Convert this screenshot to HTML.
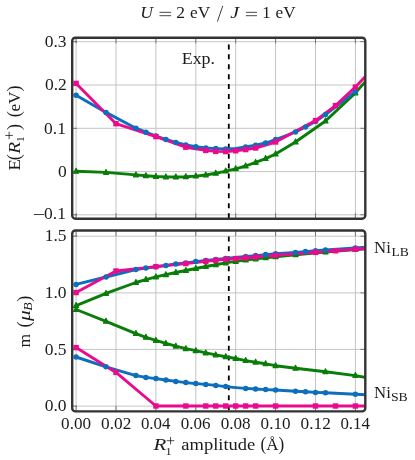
<!DOCTYPE html>
<html><head><meta charset="utf-8"><title>chart</title>
<style>html,body{margin:0;padding:0;background:#fff;}svg{display:block;will-change:transform;}</style></head>
<body>
<svg width="415" height="460" viewBox="0 0 415 460">
<rect width="415" height="460" fill="#fff"/>
<defs><clipPath id="c1"><rect x="72.2" y="37.7" width="293.1" height="181.0" rx="3"/></clipPath><clipPath id="c2"><rect x="72.2" y="230.5" width="293.1" height="180.9" rx="3"/></clipPath></defs>
<g clip-path="url(#c1)"><line x1="76.1" x2="76.1" y1="37.7" y2="218.7" stroke="#c4c4c4" stroke-width="1"/><line x1="116.0" x2="116.0" y1="37.7" y2="218.7" stroke="#c4c4c4" stroke-width="1"/><line x1="155.9" x2="155.9" y1="37.7" y2="218.7" stroke="#c4c4c4" stroke-width="1"/><line x1="195.8" x2="195.8" y1="37.7" y2="218.7" stroke="#c4c4c4" stroke-width="1"/><line x1="235.7" x2="235.7" y1="37.7" y2="218.7" stroke="#c4c4c4" stroke-width="1"/><line x1="275.6" x2="275.6" y1="37.7" y2="218.7" stroke="#c4c4c4" stroke-width="1"/><line x1="315.5" x2="315.5" y1="37.7" y2="218.7" stroke="#c4c4c4" stroke-width="1"/><line x1="355.4" x2="355.4" y1="37.7" y2="218.7" stroke="#c4c4c4" stroke-width="1"/><line x1="72.2" x2="365.3" y1="41.7" y2="41.7" stroke="#c4c4c4" stroke-width="1"/><line x1="72.2" x2="365.3" y1="85.0" y2="85.0" stroke="#c4c4c4" stroke-width="1"/><line x1="72.2" x2="365.3" y1="128.3" y2="128.3" stroke="#c4c4c4" stroke-width="1"/><line x1="72.2" x2="365.3" y1="171.6" y2="171.6" stroke="#c4c4c4" stroke-width="1"/><line x1="72.2" x2="365.3" y1="214.8" y2="214.8" stroke="#c4c4c4" stroke-width="1"/><line x1="76.1" x2="76.1" y1="37.7" y2="43.3" stroke="#3a3a3a" stroke-width="0.6"/><line x1="76.1" x2="76.1" y1="213.1" y2="218.7" stroke="#3a3a3a" stroke-width="0.6"/><line x1="116.0" x2="116.0" y1="37.7" y2="43.3" stroke="#3a3a3a" stroke-width="0.6"/><line x1="116.0" x2="116.0" y1="213.1" y2="218.7" stroke="#3a3a3a" stroke-width="0.6"/><line x1="155.9" x2="155.9" y1="37.7" y2="43.3" stroke="#3a3a3a" stroke-width="0.6"/><line x1="155.9" x2="155.9" y1="213.1" y2="218.7" stroke="#3a3a3a" stroke-width="0.6"/><line x1="195.8" x2="195.8" y1="37.7" y2="43.3" stroke="#3a3a3a" stroke-width="0.6"/><line x1="195.8" x2="195.8" y1="213.1" y2="218.7" stroke="#3a3a3a" stroke-width="0.6"/><line x1="235.7" x2="235.7" y1="37.7" y2="43.3" stroke="#3a3a3a" stroke-width="0.6"/><line x1="235.7" x2="235.7" y1="213.1" y2="218.7" stroke="#3a3a3a" stroke-width="0.6"/><line x1="275.6" x2="275.6" y1="37.7" y2="43.3" stroke="#3a3a3a" stroke-width="0.6"/><line x1="275.6" x2="275.6" y1="213.1" y2="218.7" stroke="#3a3a3a" stroke-width="0.6"/><line x1="315.5" x2="315.5" y1="37.7" y2="43.3" stroke="#3a3a3a" stroke-width="0.6"/><line x1="315.5" x2="315.5" y1="213.1" y2="218.7" stroke="#3a3a3a" stroke-width="0.6"/><line x1="355.4" x2="355.4" y1="37.7" y2="43.3" stroke="#3a3a3a" stroke-width="0.6"/><line x1="355.4" x2="355.4" y1="213.1" y2="218.7" stroke="#3a3a3a" stroke-width="0.6"/><line x1="72.2" x2="77.1" y1="41.7" y2="41.7" stroke="#3a3a3a" stroke-width="0.6"/><line x1="360.4" x2="365.3" y1="41.7" y2="41.7" stroke="#3a3a3a" stroke-width="0.6"/><line x1="72.2" x2="77.1" y1="85.0" y2="85.0" stroke="#3a3a3a" stroke-width="0.6"/><line x1="360.4" x2="365.3" y1="85.0" y2="85.0" stroke="#3a3a3a" stroke-width="0.6"/><line x1="72.2" x2="77.1" y1="128.3" y2="128.3" stroke="#3a3a3a" stroke-width="0.6"/><line x1="360.4" x2="365.3" y1="128.3" y2="128.3" stroke="#3a3a3a" stroke-width="0.6"/><line x1="72.2" x2="77.1" y1="171.6" y2="171.6" stroke="#3a3a3a" stroke-width="0.6"/><line x1="360.4" x2="365.3" y1="171.6" y2="171.6" stroke="#3a3a3a" stroke-width="0.6"/><line x1="72.2" x2="77.1" y1="214.8" y2="214.8" stroke="#3a3a3a" stroke-width="0.6"/><line x1="360.4" x2="365.3" y1="214.8" y2="214.8" stroke="#3a3a3a" stroke-width="0.6"/></g>
<g clip-path="url(#c2)"><line x1="76.1" x2="76.1" y1="230.5" y2="411.4" stroke="#c4c4c4" stroke-width="1"/><line x1="116.0" x2="116.0" y1="230.5" y2="411.4" stroke="#c4c4c4" stroke-width="1"/><line x1="155.9" x2="155.9" y1="230.5" y2="411.4" stroke="#c4c4c4" stroke-width="1"/><line x1="195.8" x2="195.8" y1="230.5" y2="411.4" stroke="#c4c4c4" stroke-width="1"/><line x1="235.7" x2="235.7" y1="230.5" y2="411.4" stroke="#c4c4c4" stroke-width="1"/><line x1="275.6" x2="275.6" y1="230.5" y2="411.4" stroke="#c4c4c4" stroke-width="1"/><line x1="315.5" x2="315.5" y1="230.5" y2="411.4" stroke="#c4c4c4" stroke-width="1"/><line x1="355.4" x2="355.4" y1="230.5" y2="411.4" stroke="#c4c4c4" stroke-width="1"/><line x1="72.2" x2="365.3" y1="236.2" y2="236.2" stroke="#c4c4c4" stroke-width="1"/><line x1="72.2" x2="365.3" y1="292.9" y2="292.9" stroke="#c4c4c4" stroke-width="1"/><line x1="72.2" x2="365.3" y1="349.4" y2="349.4" stroke="#c4c4c4" stroke-width="1"/><line x1="72.2" x2="365.3" y1="406.1" y2="406.1" stroke="#c4c4c4" stroke-width="1"/><line x1="76.1" x2="76.1" y1="230.5" y2="236.1" stroke="#3a3a3a" stroke-width="0.6"/><line x1="76.1" x2="76.1" y1="405.8" y2="411.4" stroke="#3a3a3a" stroke-width="0.6"/><line x1="116.0" x2="116.0" y1="230.5" y2="236.1" stroke="#3a3a3a" stroke-width="0.6"/><line x1="116.0" x2="116.0" y1="405.8" y2="411.4" stroke="#3a3a3a" stroke-width="0.6"/><line x1="155.9" x2="155.9" y1="230.5" y2="236.1" stroke="#3a3a3a" stroke-width="0.6"/><line x1="155.9" x2="155.9" y1="405.8" y2="411.4" stroke="#3a3a3a" stroke-width="0.6"/><line x1="195.8" x2="195.8" y1="230.5" y2="236.1" stroke="#3a3a3a" stroke-width="0.6"/><line x1="195.8" x2="195.8" y1="405.8" y2="411.4" stroke="#3a3a3a" stroke-width="0.6"/><line x1="235.7" x2="235.7" y1="230.5" y2="236.1" stroke="#3a3a3a" stroke-width="0.6"/><line x1="235.7" x2="235.7" y1="405.8" y2="411.4" stroke="#3a3a3a" stroke-width="0.6"/><line x1="275.6" x2="275.6" y1="230.5" y2="236.1" stroke="#3a3a3a" stroke-width="0.6"/><line x1="275.6" x2="275.6" y1="405.8" y2="411.4" stroke="#3a3a3a" stroke-width="0.6"/><line x1="315.5" x2="315.5" y1="230.5" y2="236.1" stroke="#3a3a3a" stroke-width="0.6"/><line x1="315.5" x2="315.5" y1="405.8" y2="411.4" stroke="#3a3a3a" stroke-width="0.6"/><line x1="355.4" x2="355.4" y1="230.5" y2="236.1" stroke="#3a3a3a" stroke-width="0.6"/><line x1="355.4" x2="355.4" y1="405.8" y2="411.4" stroke="#3a3a3a" stroke-width="0.6"/><line x1="72.2" x2="77.1" y1="236.2" y2="236.2" stroke="#3a3a3a" stroke-width="0.6"/><line x1="360.4" x2="365.3" y1="236.2" y2="236.2" stroke="#3a3a3a" stroke-width="0.6"/><line x1="72.2" x2="77.1" y1="292.9" y2="292.9" stroke="#3a3a3a" stroke-width="0.6"/><line x1="360.4" x2="365.3" y1="292.9" y2="292.9" stroke="#3a3a3a" stroke-width="0.6"/><line x1="72.2" x2="77.1" y1="349.4" y2="349.4" stroke="#3a3a3a" stroke-width="0.6"/><line x1="360.4" x2="365.3" y1="349.4" y2="349.4" stroke="#3a3a3a" stroke-width="0.6"/><line x1="72.2" x2="77.1" y1="406.1" y2="406.1" stroke="#3a3a3a" stroke-width="0.6"/><line x1="360.4" x2="365.3" y1="406.1" y2="406.1" stroke="#3a3a3a" stroke-width="0.6"/></g>
<g clip-path="url(#c1)"><line x1="228.8" x2="228.8" y1="44.40" y2="49.40" stroke="#000" stroke-width="1.8"/><line x1="228.8" x2="228.8" y1="54.33" y2="59.33" stroke="#000" stroke-width="1.8"/><line x1="228.8" x2="228.8" y1="64.26" y2="69.26" stroke="#000" stroke-width="1.8"/><line x1="228.8" x2="228.8" y1="74.19" y2="79.19" stroke="#000" stroke-width="1.8"/><line x1="228.8" x2="228.8" y1="84.12" y2="89.12" stroke="#000" stroke-width="1.8"/><line x1="228.8" x2="228.8" y1="94.05" y2="99.05" stroke="#000" stroke-width="1.8"/><line x1="228.8" x2="228.8" y1="103.98" y2="108.98" stroke="#000" stroke-width="1.8"/><line x1="228.8" x2="228.8" y1="113.91" y2="118.91" stroke="#000" stroke-width="1.8"/><line x1="228.8" x2="228.8" y1="123.84" y2="128.84" stroke="#000" stroke-width="1.8"/><line x1="228.8" x2="228.8" y1="133.77" y2="138.77" stroke="#000" stroke-width="1.8"/><line x1="228.8" x2="228.8" y1="143.70" y2="148.70" stroke="#000" stroke-width="1.8"/><line x1="228.8" x2="228.8" y1="153.63" y2="158.63" stroke="#000" stroke-width="1.8"/><line x1="228.8" x2="228.8" y1="163.56" y2="168.56" stroke="#000" stroke-width="1.8"/><line x1="228.8" x2="228.8" y1="173.49" y2="178.49" stroke="#000" stroke-width="1.8"/><line x1="228.8" x2="228.8" y1="183.42" y2="188.42" stroke="#000" stroke-width="1.8"/><line x1="228.8" x2="228.8" y1="193.35" y2="198.35" stroke="#000" stroke-width="1.8"/><line x1="228.8" x2="228.8" y1="203.28" y2="208.28" stroke="#000" stroke-width="1.8"/><line x1="228.8" x2="228.8" y1="213.21" y2="218.21" stroke="#000" stroke-width="1.8"/></g>
<g clip-path="url(#c2)"><line x1="228.8" x2="228.8" y1="236.40" y2="241.40" stroke="#000" stroke-width="1.8"/><line x1="228.8" x2="228.8" y1="246.33" y2="251.33" stroke="#000" stroke-width="1.8"/><line x1="228.8" x2="228.8" y1="256.26" y2="261.26" stroke="#000" stroke-width="1.8"/><line x1="228.8" x2="228.8" y1="266.19" y2="271.19" stroke="#000" stroke-width="1.8"/><line x1="228.8" x2="228.8" y1="276.12" y2="281.12" stroke="#000" stroke-width="1.8"/><line x1="228.8" x2="228.8" y1="286.05" y2="291.05" stroke="#000" stroke-width="1.8"/><line x1="228.8" x2="228.8" y1="295.98" y2="300.98" stroke="#000" stroke-width="1.8"/><line x1="228.8" x2="228.8" y1="305.91" y2="310.91" stroke="#000" stroke-width="1.8"/><line x1="228.8" x2="228.8" y1="315.84" y2="320.84" stroke="#000" stroke-width="1.8"/><line x1="228.8" x2="228.8" y1="325.77" y2="330.77" stroke="#000" stroke-width="1.8"/><line x1="228.8" x2="228.8" y1="335.70" y2="340.70" stroke="#000" stroke-width="1.8"/><line x1="228.8" x2="228.8" y1="345.63" y2="350.63" stroke="#000" stroke-width="1.8"/><line x1="228.8" x2="228.8" y1="355.56" y2="360.56" stroke="#000" stroke-width="1.8"/><line x1="228.8" x2="228.8" y1="365.49" y2="370.49" stroke="#000" stroke-width="1.8"/><line x1="228.8" x2="228.8" y1="375.42" y2="380.42" stroke="#000" stroke-width="1.8"/><line x1="228.8" x2="228.8" y1="385.35" y2="390.35" stroke="#000" stroke-width="1.8"/><line x1="228.8" x2="228.8" y1="395.28" y2="400.28" stroke="#000" stroke-width="1.8"/><line x1="228.8" x2="228.8" y1="405.21" y2="410.21" stroke="#000" stroke-width="1.8"/></g>
<g clip-path="url(#c1)">
<path d="M76.1 171.3 L106.0 172.4 L135.9 174.9 L145.9 175.8 L155.9 176.5 L165.9 176.9 L175.8 177.0 L185.8 176.7 L195.8 176.1 L205.8 175.0 L215.8 173.3 L225.7 171.1 L235.7 168.8 L245.7 166.0 L255.6 162.4 L265.6 158.6 L275.6 154.0 L295.5 142.0 L325.5 121.0 L355.4 92.9 L385.4 59.0" fill="none" stroke="#087d08" stroke-width="2.90" stroke-linejoin="round" stroke-linecap="butt"/>
<path d="M76.1 95.2 L106.0 112.4 L135.9 128.2 L145.9 132.2 L155.9 136.0 L165.9 139.4 L175.8 142.4 L185.8 145.0 L195.8 146.8 L205.8 148.0 L215.8 148.6 L225.7 149.0 L235.7 148.4 L245.7 147.0 L255.6 145.2 L265.6 143.0 L275.6 139.6 L295.5 132.0 L305.5 127.0 L315.5 121.5 L325.5 114.6 L355.4 91.7" fill="none" stroke="#0d6ebd" stroke-width="2.90" stroke-linejoin="round" stroke-linecap="butt"/>
<path d="M76.1 83.4 L116.0 123.7 L155.9 136.6 L185.8 147.2 L205.8 150.4 L215.8 151.4 L225.7 151.6 L235.7 150.8 L245.7 149.6 L255.6 148.0 L275.6 142.0 L315.5 120.6 L335.5 105.6 L355.4 87.1 L385.4 55.3" fill="none" stroke="#ea0a8e" stroke-width="2.90" stroke-linejoin="round" stroke-linecap="butt"/>
<path d="M76.10 168.30 L73.60 173.20 L78.60 173.20 Z" fill="#087d08" stroke="#087d08" stroke-width="1.2" stroke-linejoin="round"/><path d="M106.02 169.40 L103.52 174.30 L108.52 174.30 Z" fill="#087d08" stroke="#087d08" stroke-width="1.2" stroke-linejoin="round"/><path d="M135.95 171.90 L133.45 176.80 L138.45 176.80 Z" fill="#087d08" stroke="#087d08" stroke-width="1.2" stroke-linejoin="round"/><path d="M145.93 172.80 L143.43 177.70 L148.43 177.70 Z" fill="#087d08" stroke="#087d08" stroke-width="1.2" stroke-linejoin="round"/><path d="M155.90 173.50 L153.40 178.40 L158.40 178.40 Z" fill="#087d08" stroke="#087d08" stroke-width="1.2" stroke-linejoin="round"/><path d="M165.88 173.90 L163.38 178.80 L168.38 178.80 Z" fill="#087d08" stroke="#087d08" stroke-width="1.2" stroke-linejoin="round"/><path d="M175.85 174.00 L173.35 178.90 L178.35 178.90 Z" fill="#087d08" stroke="#087d08" stroke-width="1.2" stroke-linejoin="round"/><path d="M185.82 173.70 L183.32 178.60 L188.32 178.60 Z" fill="#087d08" stroke="#087d08" stroke-width="1.2" stroke-linejoin="round"/><path d="M195.80 173.10 L193.30 178.00 L198.30 178.00 Z" fill="#087d08" stroke="#087d08" stroke-width="1.2" stroke-linejoin="round"/><path d="M205.78 172.00 L203.28 176.90 L208.28 176.90 Z" fill="#087d08" stroke="#087d08" stroke-width="1.2" stroke-linejoin="round"/><path d="M215.75 170.30 L213.25 175.20 L218.25 175.20 Z" fill="#087d08" stroke="#087d08" stroke-width="1.2" stroke-linejoin="round"/><path d="M225.72 168.10 L223.22 173.00 L228.22 173.00 Z" fill="#087d08" stroke="#087d08" stroke-width="1.2" stroke-linejoin="round"/><path d="M235.70 165.80 L233.20 170.70 L238.20 170.70 Z" fill="#087d08" stroke="#087d08" stroke-width="1.2" stroke-linejoin="round"/><path d="M245.68 163.00 L243.18 167.90 L248.18 167.90 Z" fill="#087d08" stroke="#087d08" stroke-width="1.2" stroke-linejoin="round"/><path d="M255.65 159.40 L253.15 164.30 L258.15 164.30 Z" fill="#087d08" stroke="#087d08" stroke-width="1.2" stroke-linejoin="round"/><path d="M265.62 155.60 L263.12 160.50 L268.12 160.50 Z" fill="#087d08" stroke="#087d08" stroke-width="1.2" stroke-linejoin="round"/><path d="M275.60 151.00 L273.10 155.90 L278.10 155.90 Z" fill="#087d08" stroke="#087d08" stroke-width="1.2" stroke-linejoin="round"/><path d="M295.55 139.00 L293.05 143.90 L298.05 143.90 Z" fill="#087d08" stroke="#087d08" stroke-width="1.2" stroke-linejoin="round"/><path d="M325.48 118.00 L322.98 122.90 L327.98 122.90 Z" fill="#087d08" stroke="#087d08" stroke-width="1.2" stroke-linejoin="round"/><path d="M355.40 89.90 L352.90 94.80 L357.90 94.80 Z" fill="#087d08" stroke="#087d08" stroke-width="1.2" stroke-linejoin="round"/>
<circle cx="76.1" cy="95.2" r="2.75" fill="#0d6ebd"/><circle cx="106.0" cy="112.4" r="2.75" fill="#0d6ebd"/><circle cx="135.9" cy="128.2" r="2.75" fill="#0d6ebd"/><circle cx="145.9" cy="132.2" r="2.75" fill="#0d6ebd"/><circle cx="155.9" cy="136.0" r="2.75" fill="#0d6ebd"/><circle cx="165.9" cy="139.4" r="2.75" fill="#0d6ebd"/><circle cx="175.8" cy="142.4" r="2.75" fill="#0d6ebd"/><circle cx="185.8" cy="145.0" r="2.75" fill="#0d6ebd"/><circle cx="195.8" cy="146.8" r="2.75" fill="#0d6ebd"/><circle cx="205.8" cy="148.0" r="2.75" fill="#0d6ebd"/><circle cx="215.8" cy="148.6" r="2.75" fill="#0d6ebd"/><circle cx="225.7" cy="149.0" r="2.75" fill="#0d6ebd"/><circle cx="245.7" cy="147.0" r="2.75" fill="#0d6ebd"/><circle cx="255.6" cy="145.2" r="2.75" fill="#0d6ebd"/><circle cx="265.6" cy="143.0" r="2.75" fill="#0d6ebd"/><circle cx="275.6" cy="139.6" r="2.75" fill="#0d6ebd"/><circle cx="295.5" cy="132.0" r="2.75" fill="#0d6ebd"/><circle cx="305.5" cy="127.0" r="2.75" fill="#0d6ebd"/><circle cx="315.5" cy="121.5" r="2.75" fill="#0d6ebd"/><circle cx="325.5" cy="114.6" r="2.75" fill="#0d6ebd"/><circle cx="355.4" cy="91.7" r="2.75" fill="#0d6ebd"/>
<rect x="73.40" y="80.70" width="5.40" height="5.40" fill="#ea0a8e"/><rect x="113.30" y="121.00" width="5.40" height="5.40" fill="#ea0a8e"/><rect x="153.20" y="133.90" width="5.40" height="5.40" fill="#ea0a8e"/><rect x="183.12" y="144.50" width="5.40" height="5.40" fill="#ea0a8e"/><rect x="203.08" y="147.70" width="5.40" height="5.40" fill="#ea0a8e"/><rect x="213.05" y="148.70" width="5.40" height="5.40" fill="#ea0a8e"/><rect x="223.03" y="148.90" width="5.40" height="5.40" fill="#ea0a8e"/><rect x="233.00" y="148.10" width="5.40" height="5.40" fill="#ea0a8e"/><rect x="242.98" y="146.90" width="5.40" height="5.40" fill="#ea0a8e"/><rect x="252.95" y="145.30" width="5.40" height="5.40" fill="#ea0a8e"/><rect x="272.90" y="139.30" width="5.40" height="5.40" fill="#ea0a8e"/><rect x="312.80" y="117.90" width="5.40" height="5.40" fill="#ea0a8e"/><rect x="332.75" y="102.90" width="5.40" height="5.40" fill="#ea0a8e"/><rect x="352.70" y="84.40" width="5.40" height="5.40" fill="#ea0a8e"/>
</g>
<g clip-path="url(#c2)">
<path d="M76.1 305.6 L106.0 293.4 L135.9 282.5 L145.9 279.6 L155.9 276.9 L165.9 274.7 L175.8 272.5 L185.8 270.5 L195.8 268.5 L205.8 266.5 L215.8 264.8 L225.7 262.9 L235.7 261.4 L245.7 260.1 L255.6 258.9 L265.6 257.7 L275.6 256.7 L295.5 254.7 L325.5 252.0 L355.4 249.6 L385.4 247.5" fill="none" stroke="#087d08" stroke-width="2.90" stroke-linejoin="round" stroke-linecap="butt"/>
<path d="M76.1 309.5 L106.0 321.3 L135.9 333.6 L145.9 337.3 L155.9 340.4 L165.9 343.4 L175.8 346.2 L185.8 348.7 L195.8 350.7 L205.8 352.9 L215.8 354.9 L225.7 356.7 L235.7 358.5 L245.7 360.6 L255.6 362.2 L265.6 363.8 L275.6 365.7 L295.5 368.3 L325.5 371.8 L355.4 375.6 L385.4 381.0" fill="none" stroke="#087d08" stroke-width="2.90" stroke-linejoin="round" stroke-linecap="butt"/>
<path d="M76.1 284.4 L106.0 277.0 L135.9 269.6 L145.9 268.1 L155.9 266.8 L165.9 265.4 L175.8 264.0 L185.8 263.0 L195.8 261.6 L205.8 260.4 L215.8 259.4 L225.7 258.4 L235.7 257.4 L245.7 256.4 L255.6 255.6 L265.6 254.6 L275.6 253.8 L295.5 252.4 L305.5 251.6 L315.5 250.8 L325.5 250.0 L355.4 248.0 L385.4 246.0" fill="none" stroke="#0d6ebd" stroke-width="2.90" stroke-linejoin="round" stroke-linecap="butt"/>
<path d="M76.1 357.0 L106.0 366.8 L135.9 375.6 L145.9 377.4 L155.9 378.6 L165.9 380.0 L175.8 381.4 L185.8 382.6 L195.8 383.6 L205.8 384.4 L215.8 385.4 L225.7 386.6 L235.7 387.6 L245.7 388.4 L255.6 389.0 L265.6 389.6 L275.6 390.0 L295.5 391.2 L305.5 391.8 L315.5 392.4 L325.5 392.8 L355.4 394.2 L385.4 395.8" fill="none" stroke="#0d6ebd" stroke-width="2.90" stroke-linejoin="round" stroke-linecap="butt"/>
<path d="M76.1 292.5 L116.0 271.0 L155.9 266.6 L185.8 263.6 L205.8 261.4 L215.8 260.3 L225.7 259.4 L235.7 258.6 L245.7 257.8 L255.6 257.0 L275.6 255.4 L315.5 252.4 L335.5 250.8 L355.4 249.2 L385.4 247.4" fill="none" stroke="#ea0a8e" stroke-width="2.90" stroke-linejoin="round" stroke-linecap="butt"/>
<path d="M76.1 347.6 L116.0 372.4 L155.9 406.0 L185.8 406.0 L205.8 406.0 L215.8 406.0 L225.7 406.0 L235.7 406.0 L245.7 406.0 L255.6 406.0 L275.6 406.0 L315.5 406.0 L335.5 406.0 L355.4 406.0 L385.4 406.0" fill="none" stroke="#ea0a8e" stroke-width="2.90" stroke-linejoin="round" stroke-linecap="butt"/>
<path d="M76.10 302.60 L73.60 307.50 L78.60 307.50 Z" fill="#087d08" stroke="#087d08" stroke-width="1.2" stroke-linejoin="round"/><path d="M106.02 290.40 L103.52 295.30 L108.52 295.30 Z" fill="#087d08" stroke="#087d08" stroke-width="1.2" stroke-linejoin="round"/><path d="M135.95 279.50 L133.45 284.40 L138.45 284.40 Z" fill="#087d08" stroke="#087d08" stroke-width="1.2" stroke-linejoin="round"/><path d="M145.93 276.60 L143.43 281.50 L148.43 281.50 Z" fill="#087d08" stroke="#087d08" stroke-width="1.2" stroke-linejoin="round"/><path d="M155.90 273.90 L153.40 278.80 L158.40 278.80 Z" fill="#087d08" stroke="#087d08" stroke-width="1.2" stroke-linejoin="round"/><path d="M165.88 271.70 L163.38 276.60 L168.38 276.60 Z" fill="#087d08" stroke="#087d08" stroke-width="1.2" stroke-linejoin="round"/><path d="M175.85 269.50 L173.35 274.40 L178.35 274.40 Z" fill="#087d08" stroke="#087d08" stroke-width="1.2" stroke-linejoin="round"/><path d="M185.82 267.50 L183.32 272.40 L188.32 272.40 Z" fill="#087d08" stroke="#087d08" stroke-width="1.2" stroke-linejoin="round"/><path d="M195.80 265.50 L193.30 270.40 L198.30 270.40 Z" fill="#087d08" stroke="#087d08" stroke-width="1.2" stroke-linejoin="round"/><path d="M205.78 263.50 L203.28 268.40 L208.28 268.40 Z" fill="#087d08" stroke="#087d08" stroke-width="1.2" stroke-linejoin="round"/><path d="M215.75 261.80 L213.25 266.70 L218.25 266.70 Z" fill="#087d08" stroke="#087d08" stroke-width="1.2" stroke-linejoin="round"/><path d="M225.72 259.90 L223.22 264.80 L228.22 264.80 Z" fill="#087d08" stroke="#087d08" stroke-width="1.2" stroke-linejoin="round"/><path d="M235.70 258.40 L233.20 263.30 L238.20 263.30 Z" fill="#087d08" stroke="#087d08" stroke-width="1.2" stroke-linejoin="round"/><path d="M245.68 257.10 L243.18 262.00 L248.18 262.00 Z" fill="#087d08" stroke="#087d08" stroke-width="1.2" stroke-linejoin="round"/><path d="M255.65 255.90 L253.15 260.80 L258.15 260.80 Z" fill="#087d08" stroke="#087d08" stroke-width="1.2" stroke-linejoin="round"/><path d="M265.62 254.70 L263.12 259.60 L268.12 259.60 Z" fill="#087d08" stroke="#087d08" stroke-width="1.2" stroke-linejoin="round"/><path d="M275.60 253.70 L273.10 258.60 L278.10 258.60 Z" fill="#087d08" stroke="#087d08" stroke-width="1.2" stroke-linejoin="round"/><path d="M295.55 251.70 L293.05 256.60 L298.05 256.60 Z" fill="#087d08" stroke="#087d08" stroke-width="1.2" stroke-linejoin="round"/><path d="M325.48 249.00 L322.98 253.90 L327.98 253.90 Z" fill="#087d08" stroke="#087d08" stroke-width="1.2" stroke-linejoin="round"/><path d="M355.40 246.60 L352.90 251.50 L357.90 251.50 Z" fill="#087d08" stroke="#087d08" stroke-width="1.2" stroke-linejoin="round"/>
<path d="M76.10 306.50 L73.60 311.40 L78.60 311.40 Z" fill="#087d08" stroke="#087d08" stroke-width="1.2" stroke-linejoin="round"/><path d="M106.02 318.30 L103.52 323.20 L108.52 323.20 Z" fill="#087d08" stroke="#087d08" stroke-width="1.2" stroke-linejoin="round"/><path d="M135.95 330.60 L133.45 335.50 L138.45 335.50 Z" fill="#087d08" stroke="#087d08" stroke-width="1.2" stroke-linejoin="round"/><path d="M145.93 334.30 L143.43 339.20 L148.43 339.20 Z" fill="#087d08" stroke="#087d08" stroke-width="1.2" stroke-linejoin="round"/><path d="M155.90 337.40 L153.40 342.30 L158.40 342.30 Z" fill="#087d08" stroke="#087d08" stroke-width="1.2" stroke-linejoin="round"/><path d="M165.88 340.40 L163.38 345.30 L168.38 345.30 Z" fill="#087d08" stroke="#087d08" stroke-width="1.2" stroke-linejoin="round"/><path d="M175.85 343.20 L173.35 348.10 L178.35 348.10 Z" fill="#087d08" stroke="#087d08" stroke-width="1.2" stroke-linejoin="round"/><path d="M185.82 345.70 L183.32 350.60 L188.32 350.60 Z" fill="#087d08" stroke="#087d08" stroke-width="1.2" stroke-linejoin="round"/><path d="M195.80 347.70 L193.30 352.60 L198.30 352.60 Z" fill="#087d08" stroke="#087d08" stroke-width="1.2" stroke-linejoin="round"/><path d="M205.78 349.90 L203.28 354.80 L208.28 354.80 Z" fill="#087d08" stroke="#087d08" stroke-width="1.2" stroke-linejoin="round"/><path d="M215.75 351.90 L213.25 356.80 L218.25 356.80 Z" fill="#087d08" stroke="#087d08" stroke-width="1.2" stroke-linejoin="round"/><path d="M225.72 353.70 L223.22 358.60 L228.22 358.60 Z" fill="#087d08" stroke="#087d08" stroke-width="1.2" stroke-linejoin="round"/><path d="M235.70 355.50 L233.20 360.40 L238.20 360.40 Z" fill="#087d08" stroke="#087d08" stroke-width="1.2" stroke-linejoin="round"/><path d="M245.68 357.60 L243.18 362.50 L248.18 362.50 Z" fill="#087d08" stroke="#087d08" stroke-width="1.2" stroke-linejoin="round"/><path d="M255.65 359.20 L253.15 364.10 L258.15 364.10 Z" fill="#087d08" stroke="#087d08" stroke-width="1.2" stroke-linejoin="round"/><path d="M265.62 360.80 L263.12 365.70 L268.12 365.70 Z" fill="#087d08" stroke="#087d08" stroke-width="1.2" stroke-linejoin="round"/><path d="M275.60 362.70 L273.10 367.60 L278.10 367.60 Z" fill="#087d08" stroke="#087d08" stroke-width="1.2" stroke-linejoin="round"/><path d="M295.55 365.30 L293.05 370.20 L298.05 370.20 Z" fill="#087d08" stroke="#087d08" stroke-width="1.2" stroke-linejoin="round"/><path d="M325.48 368.80 L322.98 373.70 L327.98 373.70 Z" fill="#087d08" stroke="#087d08" stroke-width="1.2" stroke-linejoin="round"/><path d="M355.40 372.60 L352.90 377.50 L357.90 377.50 Z" fill="#087d08" stroke="#087d08" stroke-width="1.2" stroke-linejoin="round"/>
<circle cx="76.1" cy="284.4" r="2.75" fill="#0d6ebd"/><circle cx="106.0" cy="277.0" r="2.75" fill="#0d6ebd"/><circle cx="135.9" cy="269.6" r="2.75" fill="#0d6ebd"/><circle cx="145.9" cy="268.1" r="2.75" fill="#0d6ebd"/><circle cx="155.9" cy="266.8" r="2.75" fill="#0d6ebd"/><circle cx="165.9" cy="265.4" r="2.75" fill="#0d6ebd"/><circle cx="175.8" cy="264.0" r="2.75" fill="#0d6ebd"/><circle cx="185.8" cy="263.0" r="2.75" fill="#0d6ebd"/><circle cx="195.8" cy="261.6" r="2.75" fill="#0d6ebd"/><circle cx="205.8" cy="260.4" r="2.75" fill="#0d6ebd"/><circle cx="215.8" cy="259.4" r="2.75" fill="#0d6ebd"/><circle cx="225.7" cy="258.4" r="2.75" fill="#0d6ebd"/><circle cx="245.7" cy="256.4" r="2.75" fill="#0d6ebd"/><circle cx="255.6" cy="255.6" r="2.75" fill="#0d6ebd"/><circle cx="265.6" cy="254.6" r="2.75" fill="#0d6ebd"/><circle cx="275.6" cy="253.8" r="2.75" fill="#0d6ebd"/><circle cx="295.5" cy="252.4" r="2.75" fill="#0d6ebd"/><circle cx="305.5" cy="251.6" r="2.75" fill="#0d6ebd"/><circle cx="315.5" cy="250.8" r="2.75" fill="#0d6ebd"/><circle cx="325.5" cy="250.0" r="2.75" fill="#0d6ebd"/><circle cx="355.4" cy="248.0" r="2.75" fill="#0d6ebd"/>
<circle cx="76.1" cy="357.0" r="2.75" fill="#0d6ebd"/><circle cx="106.0" cy="366.8" r="2.75" fill="#0d6ebd"/><circle cx="135.9" cy="375.6" r="2.75" fill="#0d6ebd"/><circle cx="145.9" cy="377.4" r="2.75" fill="#0d6ebd"/><circle cx="155.9" cy="378.6" r="2.75" fill="#0d6ebd"/><circle cx="165.9" cy="380.0" r="2.75" fill="#0d6ebd"/><circle cx="175.8" cy="381.4" r="2.75" fill="#0d6ebd"/><circle cx="185.8" cy="382.6" r="2.75" fill="#0d6ebd"/><circle cx="195.8" cy="383.6" r="2.75" fill="#0d6ebd"/><circle cx="205.8" cy="384.4" r="2.75" fill="#0d6ebd"/><circle cx="215.8" cy="385.4" r="2.75" fill="#0d6ebd"/><circle cx="225.7" cy="386.6" r="2.75" fill="#0d6ebd"/><circle cx="245.7" cy="388.4" r="2.75" fill="#0d6ebd"/><circle cx="255.6" cy="389.0" r="2.75" fill="#0d6ebd"/><circle cx="265.6" cy="389.6" r="2.75" fill="#0d6ebd"/><circle cx="275.6" cy="390.0" r="2.75" fill="#0d6ebd"/><circle cx="295.5" cy="391.2" r="2.75" fill="#0d6ebd"/><circle cx="305.5" cy="391.8" r="2.75" fill="#0d6ebd"/><circle cx="315.5" cy="392.4" r="2.75" fill="#0d6ebd"/><circle cx="325.5" cy="392.8" r="2.75" fill="#0d6ebd"/><circle cx="355.4" cy="394.2" r="2.75" fill="#0d6ebd"/>
<rect x="73.40" y="289.80" width="5.40" height="5.40" fill="#ea0a8e"/><rect x="113.30" y="268.30" width="5.40" height="5.40" fill="#ea0a8e"/><rect x="153.20" y="263.90" width="5.40" height="5.40" fill="#ea0a8e"/><rect x="183.12" y="260.90" width="5.40" height="5.40" fill="#ea0a8e"/><rect x="203.08" y="258.70" width="5.40" height="5.40" fill="#ea0a8e"/><rect x="213.05" y="257.60" width="5.40" height="5.40" fill="#ea0a8e"/><rect x="223.03" y="256.70" width="5.40" height="5.40" fill="#ea0a8e"/><rect x="233.00" y="255.90" width="5.40" height="5.40" fill="#ea0a8e"/><rect x="242.98" y="255.10" width="5.40" height="5.40" fill="#ea0a8e"/><rect x="252.95" y="254.30" width="5.40" height="5.40" fill="#ea0a8e"/><rect x="272.90" y="252.70" width="5.40" height="5.40" fill="#ea0a8e"/><rect x="312.80" y="249.70" width="5.40" height="5.40" fill="#ea0a8e"/><rect x="332.75" y="248.10" width="5.40" height="5.40" fill="#ea0a8e"/><rect x="352.70" y="246.50" width="5.40" height="5.40" fill="#ea0a8e"/>
<rect x="73.40" y="344.90" width="5.40" height="5.40" fill="#ea0a8e"/><rect x="113.30" y="369.70" width="5.40" height="5.40" fill="#ea0a8e"/><rect x="153.20" y="403.30" width="5.40" height="5.40" fill="#ea0a8e"/><rect x="183.12" y="403.30" width="5.40" height="5.40" fill="#ea0a8e"/><rect x="203.08" y="403.30" width="5.40" height="5.40" fill="#ea0a8e"/><rect x="213.05" y="403.30" width="5.40" height="5.40" fill="#ea0a8e"/><rect x="223.03" y="403.30" width="5.40" height="5.40" fill="#ea0a8e"/><rect x="233.00" y="403.30" width="5.40" height="5.40" fill="#ea0a8e"/><rect x="242.98" y="403.30" width="5.40" height="5.40" fill="#ea0a8e"/><rect x="252.95" y="403.30" width="5.40" height="5.40" fill="#ea0a8e"/><rect x="272.90" y="403.30" width="5.40" height="5.40" fill="#ea0a8e"/><rect x="312.80" y="403.30" width="5.40" height="5.40" fill="#ea0a8e"/><rect x="332.75" y="403.30" width="5.40" height="5.40" fill="#ea0a8e"/><rect x="352.70" y="403.30" width="5.40" height="5.40" fill="#ea0a8e"/>
</g>
<rect x="72.2" y="37.7" width="293.1" height="181.0" rx="3.2" fill="none" stroke="#333" stroke-width="2.4"/>
<rect x="72.2" y="230.5" width="293.1" height="180.9" rx="3.2" fill="none" stroke="#333" stroke-width="2.4"/>
<g font-family="'Liberation Serif', serif" font-size="16.9" fill="#1c1c1c">
<text transform="translate(44.74,47.04) scale(1.0350,1.0000)" font-size="16.90">0.3</text>
<text transform="translate(45.00,90.31) scale(1.0350,1.0000)" font-size="16.90">0.2</text>
<text transform="translate(44.09,133.58) scale(1.0350,1.0000)" font-size="16.90">0.1</text>
<text transform="translate(57.91,176.85) scale(1.0350,1.0000)" font-size="16.90">0</text>
<text transform="translate(44.09,219.42) scale(1.0350,1.0000)" font-size="16.90">0.1</text>
<line x1="33.90" x2="44.00" y1="214.52" y2="214.52" stroke="#1c1c1c" stroke-width="0.85"/>
<text transform="translate(44.74,241.45) scale(1.0350,1.0000)" font-size="16.90">1.5</text>
<text transform="translate(44.69,298.05) scale(1.0350,1.0000)" font-size="16.90">1.0</text>
<text transform="translate(44.74,354.65) scale(1.0350,1.0000)" font-size="16.90">0.5</text>
<text transform="translate(44.69,411.25) scale(1.0350,1.0000)" font-size="16.90">0.0</text>
<text transform="translate(61.11,428.60) scale(1.0139,1.0000)" font-size="16.90">0.00</text>
<text transform="translate(101.00,428.60) scale(1.0246,1.0000)" font-size="16.90">0.02</text>
<text transform="translate(140.92,428.60) scale(1.0004,1.0000)" font-size="16.90">0.04</text>
<text transform="translate(180.81,428.60) scale(1.0093,1.0000)" font-size="16.90">0.06</text>
<text transform="translate(220.71,428.60) scale(1.0139,1.0000)" font-size="16.90">0.08</text>
<text transform="translate(260.61,428.60) scale(1.0139,1.0000)" font-size="16.90">0.10</text>
<text transform="translate(300.50,428.60) scale(1.0246,1.0000)" font-size="16.90">0.12</text>
<text transform="translate(340.42,428.60) scale(1.0004,1.0000)" font-size="16.90">0.14</text>
<text transform="translate(140.37,18.30) scale(1.0105,1.0000)" font-size="17.40" font-style="italic">U</text>
<line x1="159.50" x2="171.20" y1="12.35" y2="12.35" stroke="#1c1c1c" stroke-width="0.80"/>
<line x1="159.50" x2="171.20" y1="15.70" y2="15.70" stroke="#1c1c1c" stroke-width="0.80"/>
<text transform="translate(176.31,18.10) scale(1.0057,1.0000)" font-size="17.40">2</text>
<text transform="translate(190.01,18.10) scale(0.9948,1.0000)" font-size="17.40">eV</text>
<line x1="222.8" y1="5.8" x2="217.4" y2="21.6" stroke="#1c1c1c" stroke-width="0.85"/>
<text transform="translate(230.20,18.30) scale(1.1433,1.0000)" font-size="17.40" font-style="italic">J</text>
<line x1="245.90" x2="257.00" y1="12.35" y2="12.35" stroke="#1c1c1c" stroke-width="0.80"/>
<line x1="245.90" x2="257.00" y1="15.70" y2="15.70" stroke="#1c1c1c" stroke-width="0.80"/>
<text transform="translate(262.34,18.10) scale(0.9619,1.0000)" font-size="17.40">1</text>
<text transform="translate(275.61,18.10) scale(0.9845,1.0000)" font-size="17.40">eV</text>
<text transform="translate(181.71,64.00) scale(1.0426,1.0000)" font-size="17.20">Exp.</text>
<text transform="translate(374.10,252.60) scale(0.9940,1.0000)" font-size="16.90">Ni</text>
<text transform="translate(391.49,255.70) scale(1.0634,1.0000)" font-size="12.80">LB</text>
<text transform="translate(374.10,397.60) scale(0.9940,1.0000)" font-size="16.90">Ni</text>
<text transform="translate(390.97,400.70) scale(1.0747,1.0000)" font-size="12.80">SB</text>
<text transform="translate(153.60,449.50) scale(1.2426,1.0000)" font-size="16.90" font-style="italic">R</text>
<line x1="166.80" x2="174.30" y1="440.70" y2="440.70" stroke="#1c1c1c" stroke-width="0.80"/>
<line x1="170.55" x2="170.55" y1="436.95" y2="444.45" stroke="#1c1c1c" stroke-width="0.8"/>
<text transform="translate(165.43,454.50) scale(1.1090,1.0000)" font-size="11.00">1</text>
<text transform="translate(181.35,449.50) scale(1.0946,1.0000)" font-size="16.90">amplitude</text>
<text transform="translate(260.42,449.50) scale(1.0210,1.1700)" font-size="16.90">(</text>
<text transform="translate(266.13,449.50) scale(1.0072,1.0000)" font-size="16.90">Å</text>
<text transform="translate(278.54,449.50) scale(1.0111,1.1700)" font-size="16.90">)</text>
<g transform="translate(19.8,170.0) rotate(-90)">
<text transform="translate(-0.56,0.00) scale(1.1053,1.0000)" font-size="16.90">E</text>
<text transform="translate(9.79,0.00) scale(1.0674,1.1700)" font-size="16.90">(</text>
<text transform="translate(16.20,0.00) scale(1.1538,1.0000)" font-size="16.90" font-style="italic">R</text>
<line x1="30.80" x2="38.30" y1="-10.70" y2="-10.70" stroke="#1c1c1c" stroke-width="0.80"/>
<line x1="34.55" x2="34.55" y1="-14.45" y2="-6.95" stroke="#1c1c1c" stroke-width="0.8"/>
<text transform="translate(27.63,4.40) scale(1.1090,1.0000)" font-size="11.00">1</text>
<text transform="translate(39.92,0.00) scale(1.0570,1.1700)" font-size="16.90">)</text>
<text transform="translate(52.79,0.00) scale(1.0674,1.1700)" font-size="16.90">(</text>
<text transform="translate(58.41,0.00) scale(1.0189,1.0000)" font-size="16.90">eV</text>
<text transform="translate(78.42,0.00) scale(1.0570,1.1700)" font-size="16.90">)</text>
</g>
<g transform="translate(30.3,347.1) rotate(-90)">
<text transform="translate(-0.35,0.00) scale(1.0360,1.0000)" font-size="16.90">m</text>
<text transform="translate(19.69,0.00) scale(1.0674,1.1700)" font-size="16.90">(</text>
<text transform="translate(26.00,0.00) scale(1.2657,1.0000)" font-size="16.90" font-style="italic">μ</text>
<text transform="translate(36.46,2.00) scale(1.1689,1.0000)" font-size="11.80" font-style="italic">B</text>
<text transform="translate(45.32,0.00) scale(1.0570,1.1700)" font-size="16.90">)</text>
</g>
</g>
</svg>
</body></html>
